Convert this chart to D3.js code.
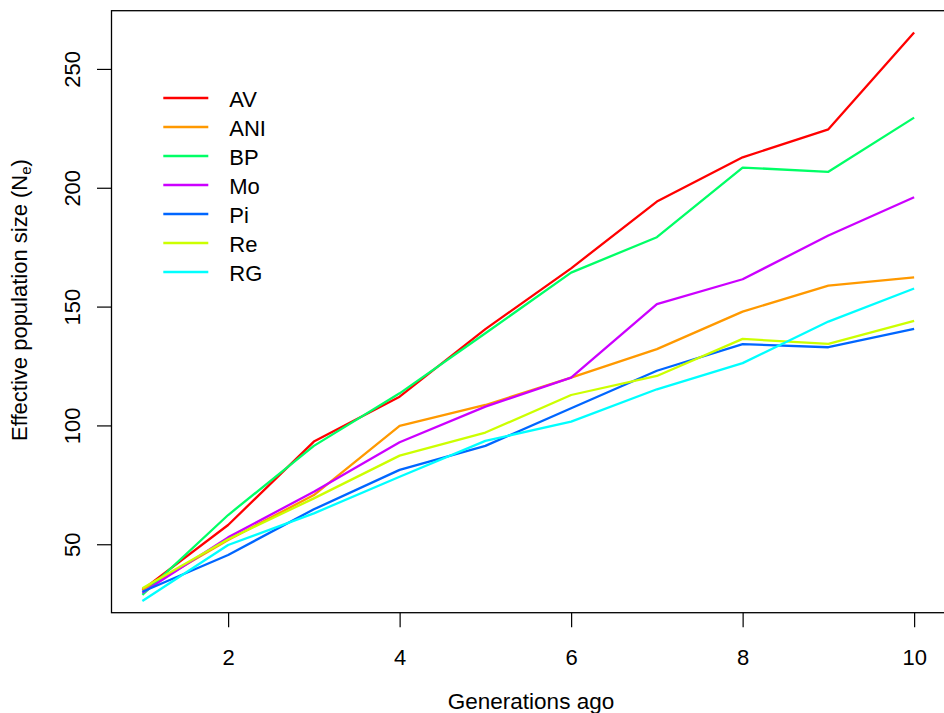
<!DOCTYPE html>
<html>
<head>
<meta charset="utf-8">
<script src="https://cdn.jsdelivr.net/npm/d3@7"></script>
<style>
  body { margin: 0; background: #fff; }
  text { font-family: "Liberation Sans", Arial, sans-serif; fill: #000; }
</style>
</head>
<body>
<svg id="chart_svg"></svg>
<script>
// Data
const generations = [1, 2, 3, 4, 5, 6, 7, 8, 9, 10];
const AV  = [30.8, 58.1, 93.2, 112.1, 140.5, 166.1, 194.2, 212.8, 224.6, 265.3];
const ANI = [30.8, 51.8, 70.7, 99.8, 108.6, 120.1, 132.1, 147.9, 158.8, 162.3];
const BP  = [28.7, 62.3, 91.4, 113.5, 138.8, 164.3, 179.2, 208.5, 206.7, 229.5];
const Mo  = [29.6, 52.9, 72.1, 92.9, 107.9, 120.1, 151.0, 161.5, 179.9, 196.0];
const Pi  = [30.0, 45.5, 64.7, 81.3, 91.4, 107.2, 123.0, 134.2, 132.9, 140.6];
const Re  = [31.5, 52.1, 69.3, 87.3, 97.0, 112.8, 120.8, 136.4, 134.3, 144.0];
const RG  = [26.1, 49.7, 63.0, 78.4, 93.5, 101.6, 115.2, 126.2, 143.7, 157.6];

const seriesNames = ["AV", "ANI", "BP", "Mo", "Pi", "Re", "RG"];
const seriesValues = [AV, ANI, BP, Mo, Pi, Re, RG];
const seriesColors = ["#FF0000", "#FF9900", "#00FF66", "#CC00FF", "#0066FF", "#CCFF00", "#00FFFF"];

const xTicks = [2, 4, 6, 8, 10];
const yTicks = [50, 100, 150, 200, 250];

const width = 944;
const height = 713;

const svg = d3.select("#chart_svg")
  .attr("width", width)
  .attr("height", height);

// plot region (right edge sits just past the window, like the original)
const plotLeft = 111.5, plotRight = 945, plotTop = 10.7, plotBottom = 612.7;

const x = d3.scaleLinear().domain([0.64, 10.36]).range([plotLeft, plotRight]);
const y = d3.scaleLinear().domain([21.2, 274.5]).range([plotBottom, plotTop]);

// x axis
const xAxis = svg.append("g")
  .attr("transform", `translate(0,${plotBottom})`)
  .call(d3.axisBottom(x).tickValues(xTicks).tickSize(14.5).tickFormat(d3.format("d")));
xAxis.select(".domain").remove();
xAxis.selectAll("line").attr("stroke", "#000").attr("stroke-width", 1.2);
xAxis.selectAll("text")
  .attr("font-size", 22)
  .attr("font-family", "Liberation Sans, Arial, sans-serif")
  .attr("fill", "#000")
  .attr("dy", null)
  .attr("y", 52);

// y axis with rotated labels
const yAxis = svg.append("g")
  .attr("transform", `translate(${plotLeft},0)`)
  .call(d3.axisLeft(y).tickValues(yTicks).tickSize(14.5).tickFormat(d3.format("d")));
yAxis.select(".domain").remove();
yAxis.selectAll("line").attr("stroke", "#000").attr("stroke-width", 1.2);
yAxis.selectAll("text")
  .attr("font-size", 22)
  .attr("font-family", "Liberation Sans, Arial, sans-serif")
  .attr("fill", "#000")
  .attr("x", null)
  .attr("dy", null)
  .attr("text-anchor", "middle")
  .attr("transform", `translate(${80 - plotLeft},0) rotate(-90)`);

// series lines
const line = d3.line()
  .x((d, i) => x(generations[i]))
  .y(d => y(d));

svg.append("g")
  .selectAll("path")
  .data(seriesValues)
  .enter().append("path")
  .attr("d", d => line(d))
  .attr("fill", "none")
  .attr("stroke", (d, i) => seriesColors[i])
  .attr("stroke-width", 2.3)
  .attr("stroke-linejoin", "round");

// box around the plot
svg.append("rect")
  .attr("x", plotLeft)
  .attr("y", plotTop)
  .attr("width", plotRight - plotLeft)
  .attr("height", plotBottom - plotTop)
  .attr("fill", "none")
  .attr("stroke", "#000")
  .attr("stroke-width", 1.3);

// axis titles
svg.append("text")
  .attr("x", 531)
  .attr("y", 709)
  .attr("text-anchor", "middle")
  .attr("font-size", 22.5)
  .text("Generations ago");

const yTitle = svg.append("text")
  .attr("transform", "translate(26.7,300) rotate(-90)")
  .attr("text-anchor", "middle")
  .attr("font-size", 22);
yTitle.append("tspan").text("Effective population size (N");
yTitle.append("tspan").attr("font-size", 15).attr("dy", 4).text("e");
yTitle.append("tspan").attr("dy", -4).text(")");

// legend
const legend = svg.append("g")
  .selectAll("g")
  .data(seriesNames)
  .enter().append("g")
  .attr("transform", (d, i) => `translate(0,${98 + i * 29})`);

legend.append("line")
  .attr("x1", 163.3)
  .attr("x2", 208.3)
  .attr("stroke", (d, i) => seriesColors[i])
  .attr("stroke-width", 2.3);

legend.append("text")
  .attr("x", 229.3)
  .attr("y", 9.3)
  .attr("font-size", 22)
  .text(d => d);
</script>
</body>
</html>
